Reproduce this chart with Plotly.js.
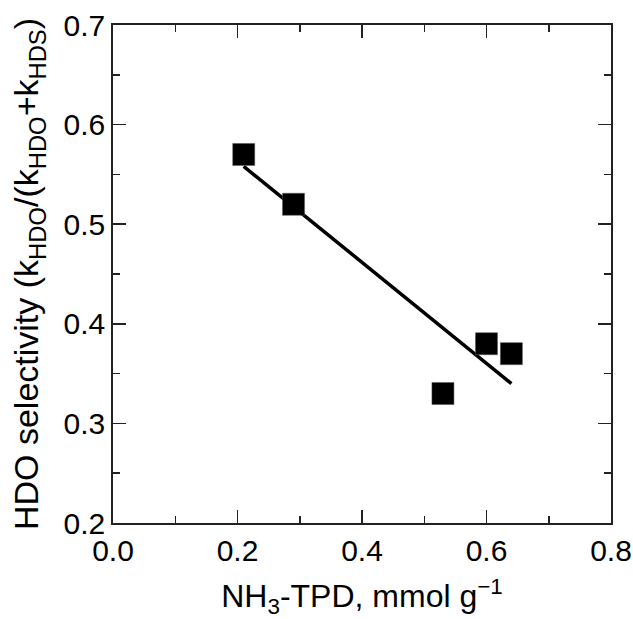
<!DOCTYPE html>
<html>
<head>
<meta charset="utf-8">
<script src="https://cdn.plot.ly/plotly-3.0.1.min.js"></script>
<style>html,body{margin:0;padding:0;background:#fff;}#chart{width:633px;height:619px;}</style>
</head>
<body>
<div id="chart"></div>
<script>
// Data
const nh3TPD = [0.21, 0.29, 0.53, 0.60, 0.64];
const hdoSelectivity = [0.57, 0.52, 0.33, 0.38, 0.37];
const fitX = [0.21, 0.64];
const fitY = [0.558, 0.340];
const xTickVals = [0, 0.2, 0.4, 0.6, 0.8];
const xTickText = ['0.0', '0.2', '0.4', '0.6', '0.8'];
const yTickVals = [0.2, 0.3, 0.4, 0.5, 0.6, 0.7];
const yTickText = ['0.2', '0.3', '0.4', '0.5', '0.6', '0.7'];

const FONT = 'Arial, "Liberation Sans", sans-serif';

const traces = [
  {
    x: fitX, y: fitY, type: 'scatter', mode: 'lines',
    line: {color: '#000', width: 3.5},
    hoverinfo: 'skip', showlegend: false
  },
  {
    x: nh3TPD, y: hdoSelectivity, type: 'scatter', mode: 'markers',
    marker: {symbol: 'square', size: 22, color: '#000', line: {color: '#555', width: 0.5}},
    showlegend: false
  }
];

const axisCommon = {
  showgrid: false, zeroline: false,
  showline: true, linecolor: '#222', linewidth: 1.8,
  mirror: 'ticks', ticks: 'inside', tickcolor: '#222', tickwidth: 1.5,
  tickfont: {family: FONT, size: 30, color: '#000'},
};

const layout = {
  width: 633, height: 619,
  margin: {l: 113, r: 22, t: 25, b: 96},
  paper_bgcolor: '#fff', plot_bgcolor: '#fff',
  font: {family: FONT, color: '#000'},
  xaxis: Object.assign({}, axisCommon, {
    range: [0, 0.8], tickmode: 'array', tickvals: xTickVals, ticktext: xTickText,
    ticklen: 13,
    minor: {dtick: 0.1, ticklen: 7, ticks: 'inside', tickcolor: '#222', tickwidth: 1.5},
    title: {text: 'NH<sub>3</sub>-TPD, mmol g<sup>\u22121</sup>', font: {family: FONT, size: 32, color: '#000'}, standoff: 22}
  }),
  yaxis: Object.assign({}, axisCommon, {
    range: [0.2, 0.7], tickmode: 'array', tickvals: yTickVals, ticktext: yTickText,
    ticklen: 13,
    minor: {dtick: 0.05, ticklen: 7, ticks: 'inside', tickcolor: '#222', tickwidth: 1.5},
    title: {text: 'HDO selectivity (k<sub>HDO</sub>/(k<sub>HDO</sub>+k<sub>HDS</sub>)', font: {family: FONT, size: 34, color: '#000'}, standoff: 14}
  })
};

Plotly.newPlot('chart', traces, layout, {displayModeBar: false, staticPlot: true});
</script>
</body>
</html>
